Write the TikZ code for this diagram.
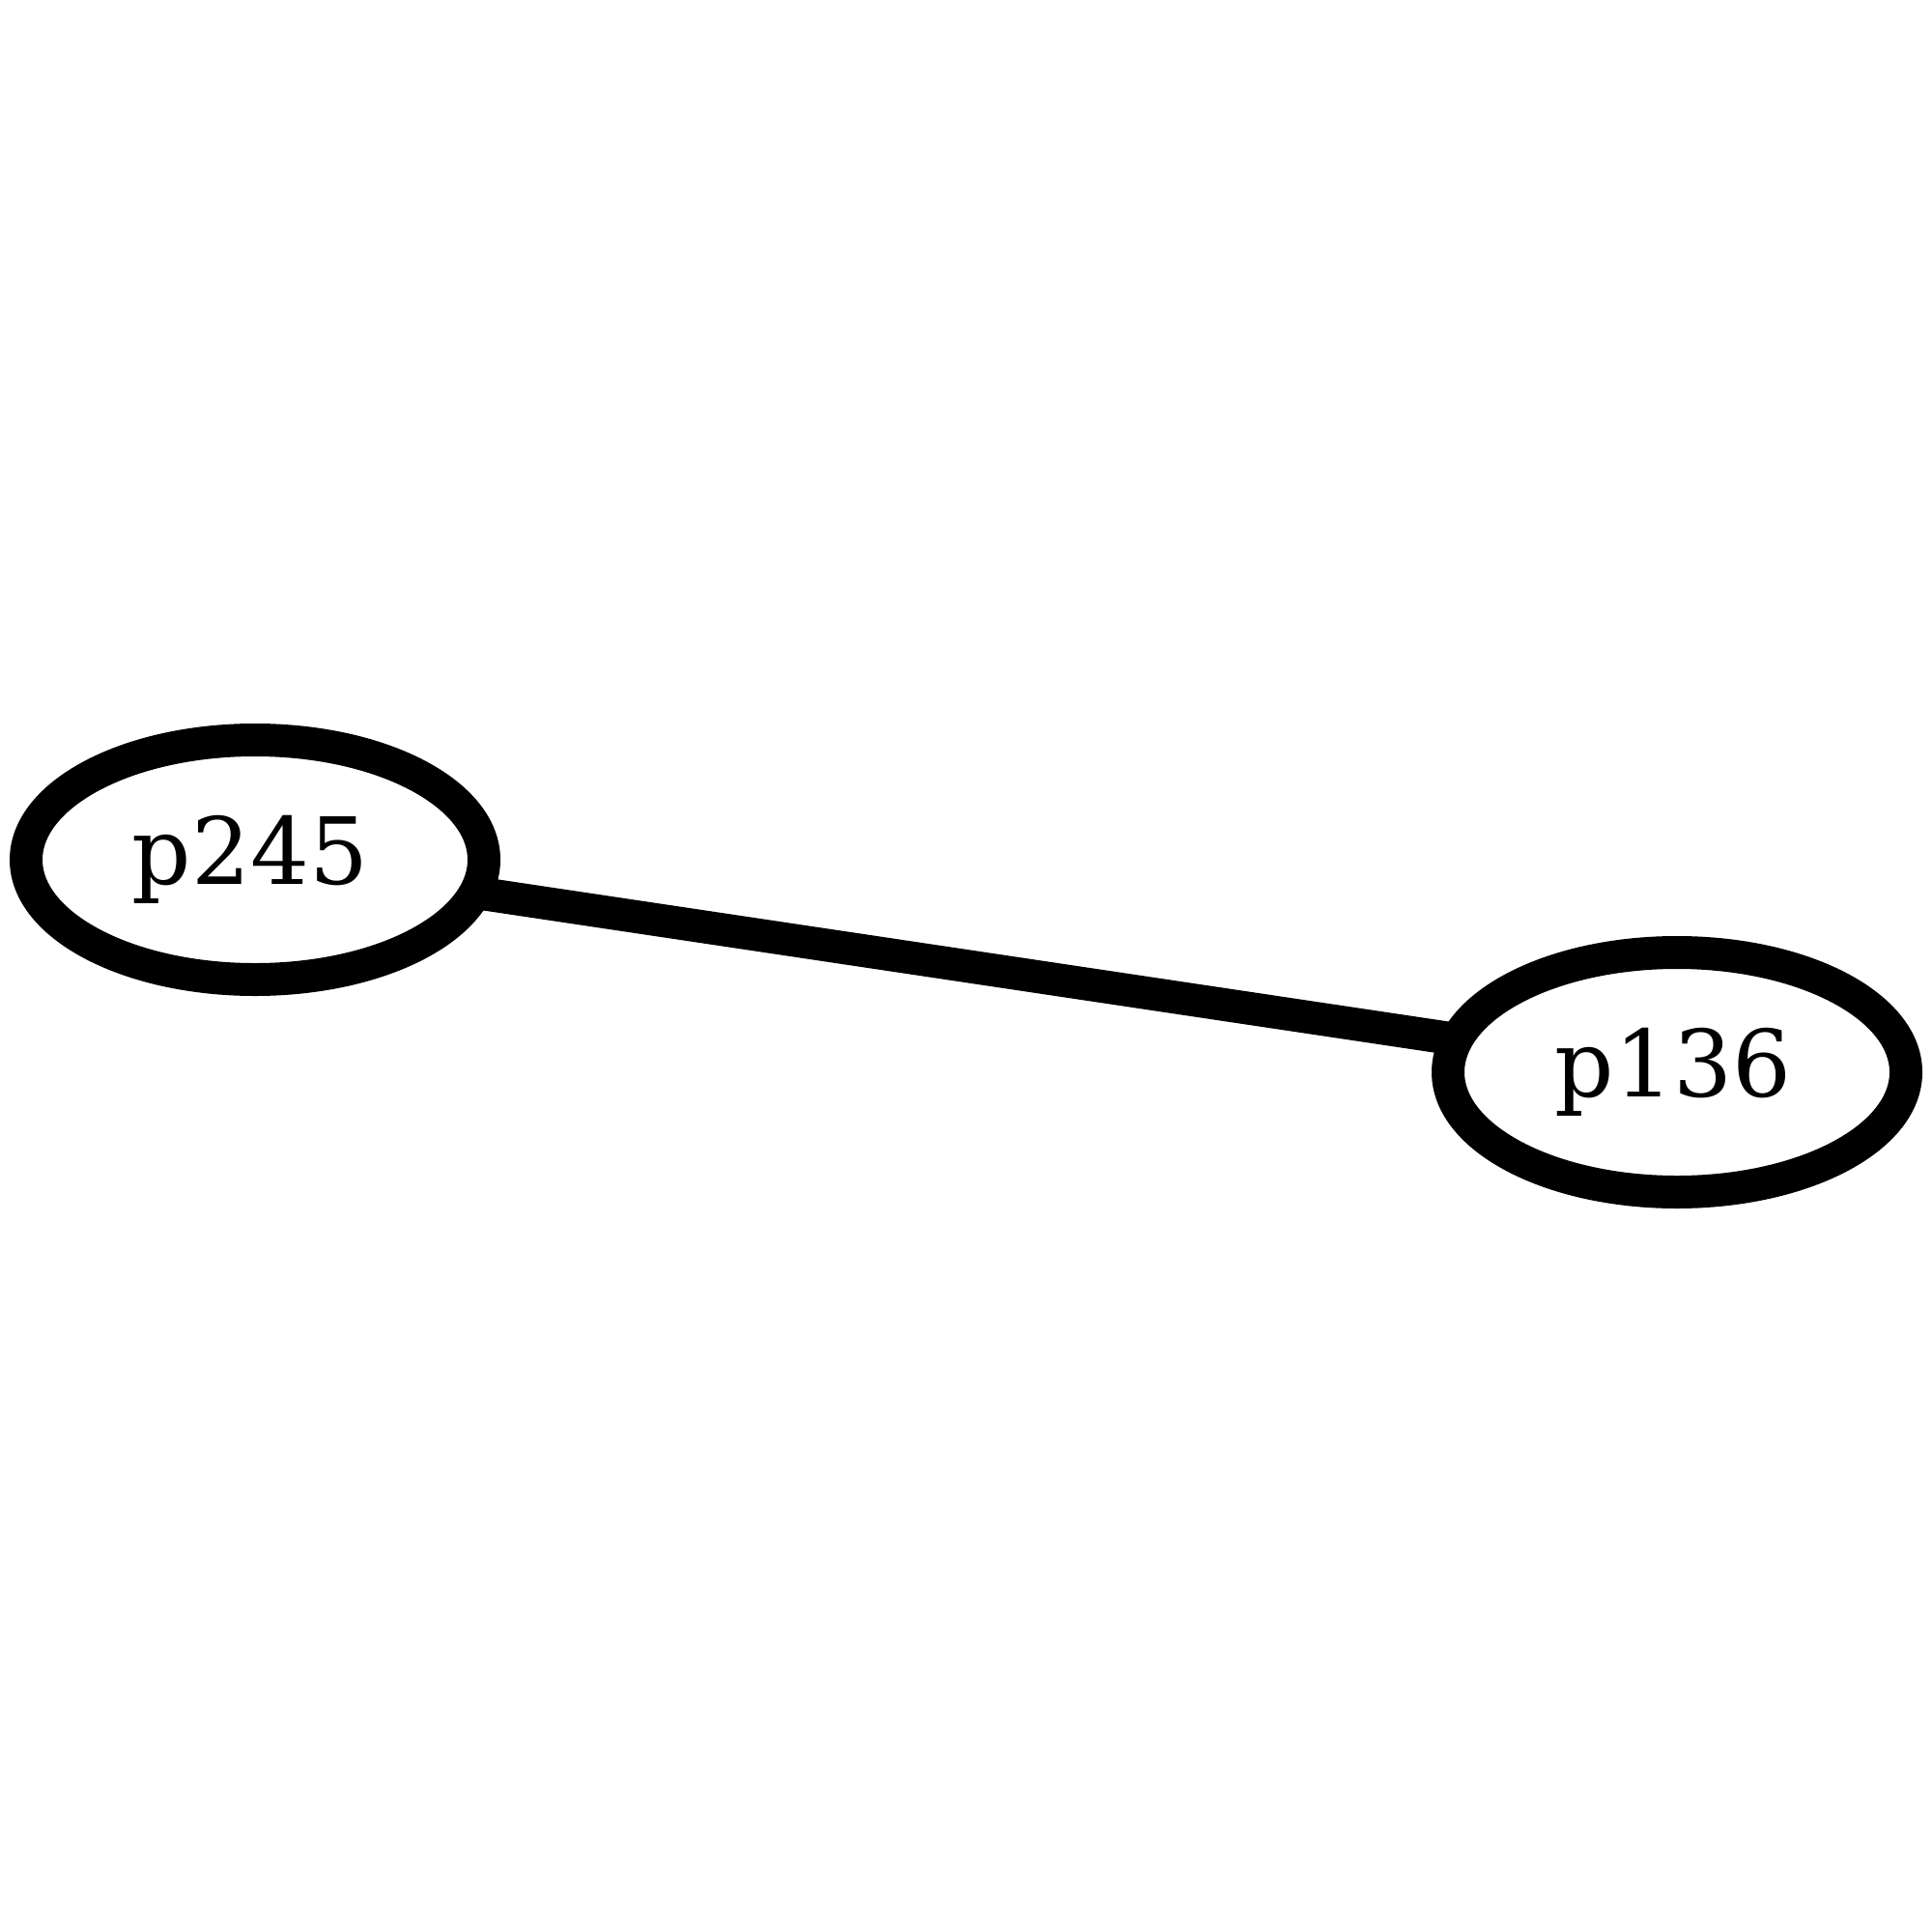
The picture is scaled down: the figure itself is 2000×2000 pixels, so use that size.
\documentclass[tikz,border=0pt]{standalone}
\usepackage{fontspec}
\setmainfont{DejaVu Serif}
\usetikzlibrary{shapes.geometric}
\begin{document}
\begin{tikzpicture}[x=0.5pt,y=-0.5pt,
  pnode/.style={ellipse,draw=black,fill=white,line width=17pt,
    minimum width=237pt,minimum height=124pt,inner sep=0pt,outer sep=0pt},
  plabel/.style={inner sep=0pt,font=\fontsize{48pt}{58pt}\selectfont},
  pedge/.style={draw=black,line width=17pt}]
\useasboundingbox (0,0) rectangle (2000,2000);
\node[pnode] (p245) at (264,890) {};
\node[pnode] (p136) at (1736,1110) {};
\node[plabel] (t245) at (259,890) {p245};
\node[plabel] (t136) at (1732,1110) {p136};
\draw[pedge] (p245) -- (p136);
\end{tikzpicture}
\end{document}
